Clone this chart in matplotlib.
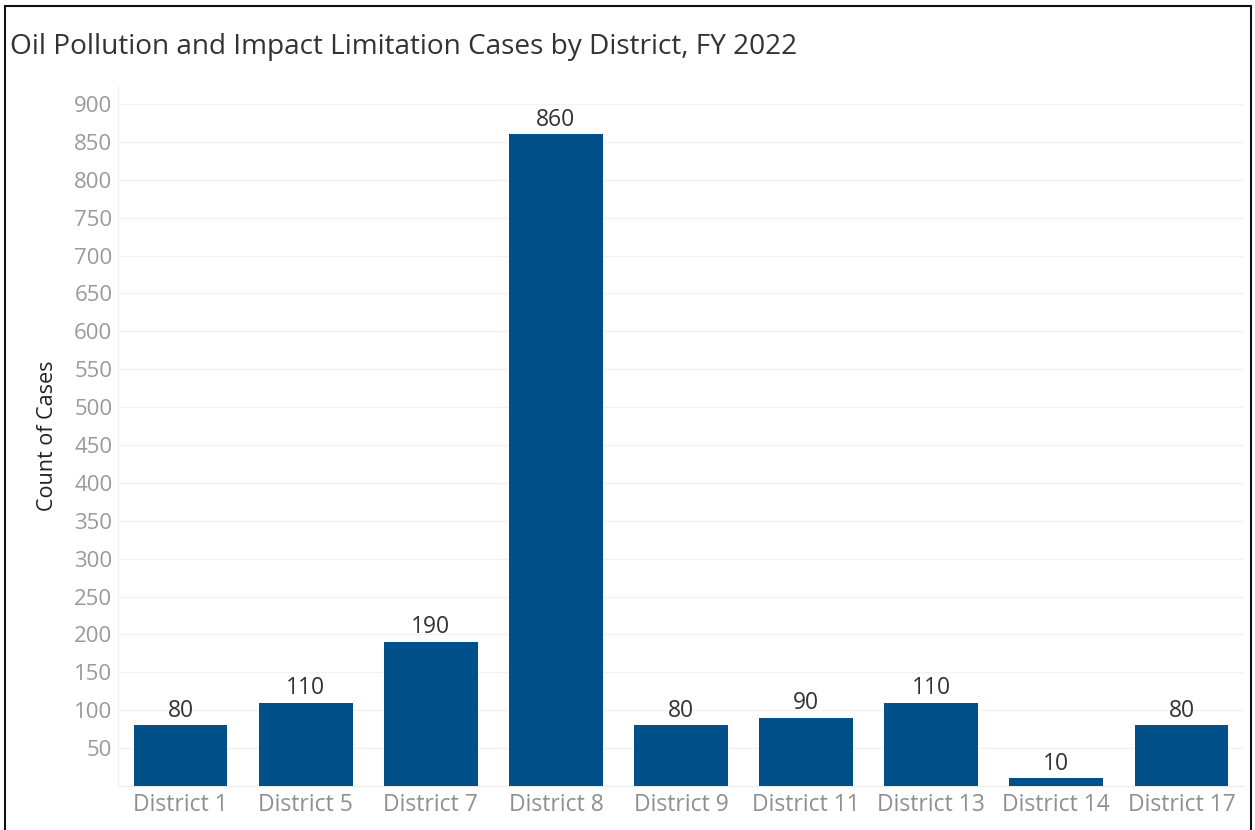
import matplotlib
matplotlib.use("Agg")
import matplotlib.pyplot as plt
from matplotlib.patches import Rectangle

categories = ["District 1", "District 5", "District 7", "District 8", "District 9",
              "District 11", "District 13", "District 14", "District 17"]
values = [80, 110, 190, 860, 80, 90, 110, 10, 80]
yticks = list(range(50, 901, 50))
title = "Oil Pollution and Impact Limitation Cases by District, FY 2022"
ylabel = "Count of Cases"

plt.rcParams['font.family'] = ['Open Sans', 'DejaVu Sans']

W, H, DPI = 1255, 830, 100
fig = plt.figure(figsize=(W / DPI, H / DPI), dpi=DPI)
ax = fig.add_axes([118 / W, 1 - 786 / H, (1244 - 118) / W, (786 - 86) / H])

x = list(range(len(categories)))
ax.bar(x, values, width=0.75, color="#02508A", zorder=3)
for xi, v in zip(x, values):
    ax.annotate(str(v), (xi, v), xytext=(0, 2), textcoords="offset points",
                ha="center", va="bottom", fontsize=16.5, color="#333333", zorder=4)

ax.set_xlim(-0.5, len(categories) - 0.5)
ax.set_ylim(0, 900 * (786 - 86) / (786 - 104))
ax.set_yticks(yticks)
ax.set_yticklabels([str(t) for t in yticks], fontsize=16, color="#9a9a9a")
ax.set_xticks(x)
ax.set_xticklabels(categories, fontsize=16.5, color="#8f8f8f")
ax.tick_params(axis="both", length=0)
ax.tick_params(axis="x", pad=5)
ax.tick_params(axis="y", pad=4)
ax.grid(axis="y", color="#f2f2f2", linewidth=1, zorder=0)
for s in ["top", "right"]:
    ax.spines[s].set_visible(False)
ax.spines["left"].set_color("#f0f0f0")
ax.spines["bottom"].set_color("#ececec")
ax.set_ylabel(ylabel, fontsize=15.5, color="#222222", labelpad=12)

fig.text(10 / W, 1 - 47 / H, title, fontsize=20.2, color="#333333", ha="left", va="center")

fig.patches.append(Rectangle((5 / W, -0.01), (1251 - 5) / W, (1 - 6 / H) + 0.01,
                             transform=fig.transFigure, fill=False,
                             edgecolor="#111111", linewidth=1.5))

fig.savefig("out.png", dpi=DPI)
